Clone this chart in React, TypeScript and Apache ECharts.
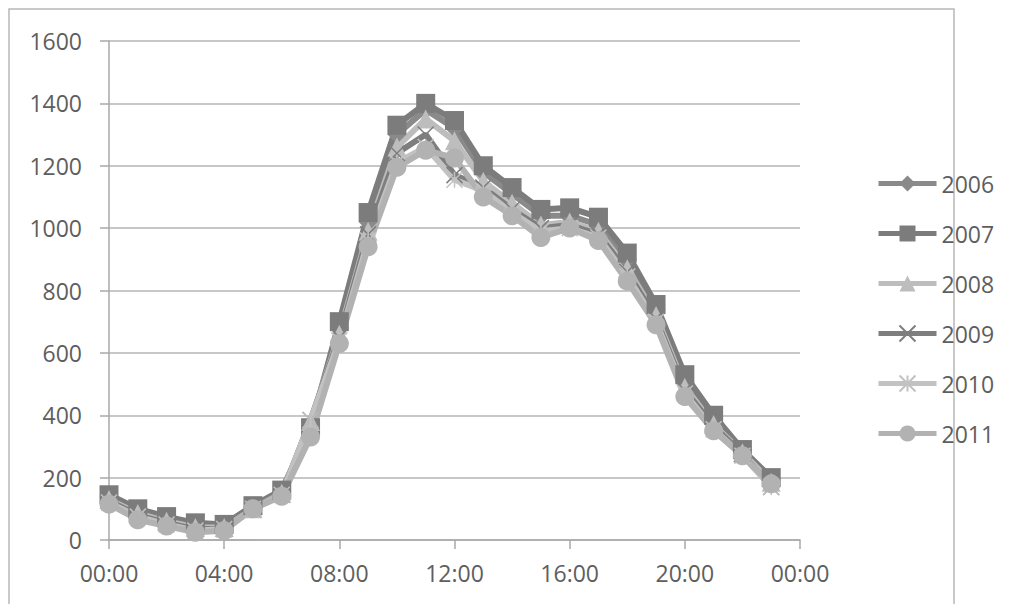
import React, { useEffect, useRef } from "react";
import * as echarts from "echarts";

const hours = [0, 1, 2, 3, 4, 5, 6, 7, 8, 9, 10, 11, 12, 13, 14, 15, 16, 17, 18, 19, 20, 21, 22, 23];
const yearNames = ["2006", "2007", "2008", "2009", "2010", "2011"];
const v2006 = [140, 95, 70, 50, 45, 105, 155, 350, 680, 1020, 1300, 1380, 1320, 1180, 1110, 1040, 1040, 1010, 900, 740, 510, 385, 280, 195];
const v2007 = [145, 100, 75, 55, 50, 110, 160, 360, 700, 1050, 1330, 1400, 1345, 1200, 1130, 1060, 1065, 1035, 920, 755, 530, 400, 290, 200];
const v2008 = [130, 85, 60, 40, 40, 100, 150, 380, 660, 990, 1260, 1350, 1280, 1150, 1080, 1010, 1020, 990, 870, 720, 490, 370, 280, 185];
const v2009 = [125, 80, 55, 35, 35, 100, 145, 385, 650, 980, 1240, 1300, 1170, 1130, 1060, 1000, 1010, 980, 860, 710, 480, 365, 275, 170];
const v2010 = [120, 75, 50, 30, 35, 100, 145, 385, 640, 960, 1210, 1260, 1155, 1120, 1050, 990, 1000, 970, 845, 700, 470, 355, 270, 170];
const v2011 = [115, 65, 45, 25, 30, 100, 140, 330, 630, 940, 1195, 1250, 1225, 1100, 1040, 970, 1000, 960, 830, 690, 460, 350, 270, 180];
const seriesValues = [v2006, v2007, v2008, v2009, v2010, v2011];
const yTicks = { min: 0, max: 1600, interval: 200 };
const xTicks = { min: 0, max: 24, interval: 4 };

const colors = ["#8a8a8a", "#7c7c7c", "#bdbdbd", "#7e7e7e", "#c2c2c2", "#b2b2b2"];
const symbols = [
  "diamond",
  "rect",
  "triangle",
  "path://M0 0L10 10M10 0L0 10",
  "path://M0 0L10 10M10 0L0 10M5 0L5 10",
  "circle",
];
const symbolSizes = [19, 19, 19, 16, 16, 19];

export default function App() {
  const ref = useRef<HTMLDivElement>(null);
  useEffect(() => {
    if (!ref.current) return;
    const chart = echarts.init(ref.current, null, { renderer: "svg" });
    const font = "'Open Sans', sans-serif";
    const series = yearNames.map((name, i) => {
      const isStroke = i === 3 || i === 4;
      return {
        name,
        type: "line",
        data: hours.map((h, k) => [h, seriesValues[i][k]]),
        symbol: symbols[i],
        symbolSize: symbolSizes[i],
        showAllSymbol: true,
        lineStyle: { color: colors[i], width: 6 },
        itemStyle: isStroke
          ? { color: colors[i], borderColor: colors[i], borderWidth: 1.5 }
          : { color: colors[i], borderWidth: 0 },
        emphasis: { disabled: true },
      };
    });
    chart.setOption({
      animation: false,
      backgroundColor: "#ffffff",
      textStyle: { fontFamily: font },
      graphic: [
        {
          type: "rect",
          shape: { x: 9, y: 9, width: 945, height: 600 },
          style: { fill: "none", stroke: "#b8b8b8", lineWidth: 1.5 },
          z: -1,
        },
      ],
      grid: { left: 109, right: 216, top: 41, bottom: 64 },
      legend: {
        orient: "vertical",
        left: 876,
        top: 168,
        padding: 0,
        itemWidth: 58,
        itemHeight: 20,
        itemGap: 19,
        lineStyle: { width: 5 },
        textStyle: { color: "#5e5e5e", fontSize: 23, fontFamily: font, lineHeight: 31 },
        data: yearNames,
        selectedMode: false,
      },
      xAxis: {
        type: "value",
        min: xTicks.min,
        max: xTicks.max,
        interval: xTicks.interval,
        axisLine: { show: true, lineStyle: { color: "#a8a8a8", width: 1.5 } },
        axisTick: { show: true, inside: false, length: 9, lineStyle: { color: "#a8a8a8", width: 1.5 } },
        splitLine: { show: false },
        axisLabel: {
          color: "#5e5e5e",
          fontSize: 23,
          fontFamily: font,
          margin: 21,
          formatter: (v: number) => String(v % 24).padStart(2, "0") + ":00",
        },
      },
      yAxis: {
        type: "value",
        min: yTicks.min,
        max: yTicks.max,
        interval: yTicks.interval,
        axisLine: { show: true, lineStyle: { color: "#a8a8a8", width: 1.5 } },
        axisTick: { show: true, inside: false, length: 9, lineStyle: { color: "#a8a8a8", width: 1.5 } },
        splitLine: { show: true, lineStyle: { color: "#b4b4b4", width: 1.5 } },
        axisLabel: { color: "#5e5e5e", fontSize: 23, fontFamily: font, margin: 27, formatter: (v: number) => String(v) },
      },
      series,
    });
    return () => chart.dispose();
  }, []);
  return (
    <div
      ref={ref}
      style={{ position: "fixed", left: 0, top: 0, width: 1016, height: 604, background: "#fff" }}
    />
  );
}
